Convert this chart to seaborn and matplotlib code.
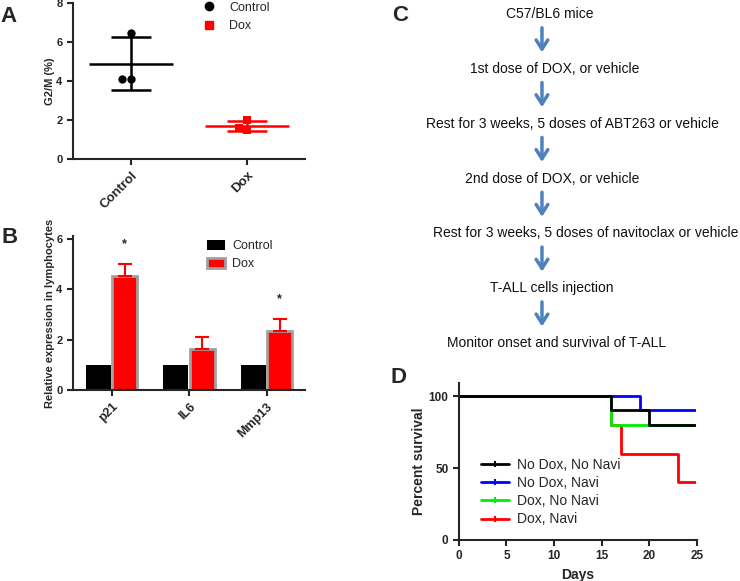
import matplotlib.pyplot as plt
import numpy as np
import pandas as pd
import seaborn as sns
from matplotlib.lines import Line2D
from matplotlib.patches import Patch

# panel A: G2/M fraction per mouse
g2m_groups = ['Control', 'Dox']
g2m_control = [6.45, 4.12, 4.12]
g2m_dox = [1.98, 1.48, 1.58]

# panel B: relative expression (mean, upper error)
genes = ['p21', 'IL6', 'Mmp13']
expr_control = [1.0, 1.0, 1.0]
expr_dox = [4.5, 1.62, 2.35]
expr_dox_err = [0.5, 0.48, 0.45]
expr_signif = ['*', '', '*']

# panel C: experiment flow
steps = ['C57/BL6 mice',
         '1st dose of DOX, or vehicle',
         'Rest for 3 weeks, 5 doses of ABT263 or vehicle',
         '2nd dose of DOX, or vehicle',
         'Rest for 3 weeks, 5 doses of navitoclax or vehicle',
         'T-ALL cells injection',
         'Monitor onset and survival of T-ALL']

# panel D: survival curves
surv_labels = ['No Dox, No Navi', 'No Dox, Navi', 'Dox, No Navi', 'Dox, Navi']
surv_colors = ['black', '#0000ff', '#00ee00', '#ff0000']
surv_days = [[0, 16, 20, 25], [0, 19, 25], [0, 16, 25], [0, 16, 17, 23, 25]]
surv_pct = [[100, 90, 80, 80], [100, 90, 90], [100, 80, 80], [100, 80, 60, 40, 40]]

sns.set_theme(style='ticks')
plt.rcParams['font.family'] = ['Liberation Sans', 'DejaVu Sans']
plt.rcParams['axes.linewidth'] = 1.5
plt.rcParams['xtick.major.width'] = 1.5
plt.rcParams['ytick.major.width'] = 1.5
plt.rcParams['xtick.major.size'] = 4
plt.rcParams['ytick.major.size'] = 4

fig = plt.figure(figsize=(7.4, 5.81), dpi=100)


def style_axis(ax, xsize=8, ysize=8):
    sns.despine(ax=ax)
    for lab in ax.get_xticklabels():
        lab.set_fontweight('bold')
        lab.set_fontsize(xsize)
    for lab in ax.get_yticklabels():
        lab.set_fontweight('bold')
        lab.set_fontsize(ysize)


def rotate_xlabels(ax):
    for lab in ax.get_xticklabels():
        lab.set_rotation(45)
        lab.set_ha('right')
        lab.set_rotation_mode('anchor')


# ---- A ----
ax_a = fig.add_axes([0.0986, 0.7263, 0.314, 0.2685])
sns.swarmplot(x=['Control'] * len(g2m_control), y=g2m_control, order=g2m_groups,
              color='black', marker='o', size=6, ax=ax_a)
sns.swarmplot(x=['Dox'] * len(g2m_dox), y=g2m_dox, order=g2m_groups,
              color='#ff0000', marker='s', size=5.5, ax=ax_a)
for i, (vals, col) in enumerate([(g2m_control, 'black'), (g2m_dox, '#ff0000')]):
    m, sd = np.mean(vals), np.std(vals, ddof=1)
    ax_a.hlines(m, i - 0.36, i + 0.36, color=col, lw=1.8)
    ax_a.hlines([m - sd, m + sd], i - 0.17, i + 0.17, color=col, lw=1.8)
    ax_a.vlines(i, m - sd, m + sd, color=col, lw=1.8)
ax_a.set_xlim(-0.5, 1.5)
ax_a.set_ylim(0, 8)
ax_a.set_yticks([0, 2, 4, 6, 8])
ax_a.set_ylabel('G2/M (%)', fontsize=8, fontweight='bold', labelpad=1)
ax_a.set_xlabel('')
style_axis(ax_a, xsize=9.5)
rotate_xlabels(ax_a)
handles_a = [Line2D([], [], ls='', marker='o', color='black', markersize=6),
             Line2D([], [], ls='', marker='s', color='#ff0000', markersize=5.5)]
ax_a.legend(handles_a, g2m_groups, loc='upper left', bbox_to_anchor=(0.485, 1.08),
            frameon=False, fontsize=9, handletextpad=0.6, labelspacing=0.5)

# ---- B ----
ax_b = fig.add_axes([0.0986, 0.3287, 0.314, 0.265])
df_b = pd.DataFrame({'gene': genes * 2,
                     'group': ['Control'] * len(genes) + ['Dox'] * len(genes),
                     'value': expr_control + expr_dox})
sns.barplot(data=df_b, x='gene', y='value', hue='group', order=genes,
            palette={'Control': 'black', 'Dox': '#ff0000'}, errorbar=None,
            saturation=1, width=0.68, gap=0.05, legend=False, ax=ax_b)
for bar in ax_b.containers[0]:
    bar.set_edgecolor('none')
for bar, val, err, sig in zip(ax_b.containers[1], expr_dox, expr_dox_err, expr_signif):
    bar.set_edgecolor('#a0a0a0')
    bar.set_linewidth(2)
    xc = bar.get_x() + bar.get_width() / 2
    ax_b.errorbar(xc, val, yerr=[[0], [err]], color='#ff0000', capsize=5,
                  capthick=1.5, lw=1.5, zorder=1)
    if sig:
        ax_b.text(xc, val + err + 0.55, sig, ha='center', va='bottom',
                  fontsize=9, fontweight='bold')
ax_b.set_xlim(-0.5, 2.5)
ax_b.set_ylim(0, 6.1)
ax_b.set_yticks([0, 2, 4, 6])
ax_b.set_xlabel('')
ax_b.set_ylabel('Relative expression in lymphocytes', fontsize=8, fontweight='bold', labelpad=1)
style_axis(ax_b, xsize=9)
rotate_xlabels(ax_b)
handles_b = [Patch(facecolor='black', edgecolor='none'),
             Patch(facecolor='#ff0000', edgecolor='#a0a0a0', linewidth=2)]
ax_b.legend(handles_b, ['Control', 'Dox'], loc='upper left', bbox_to_anchor=(0.53, 1.05),
            frameon=False, fontsize=9, handlelength=1.4, handleheight=0.9,
            handletextpad=0.6, labelspacing=0.45)

# ---- C ----
ax_c = fig.add_axes([0.5135, 0.4096, 0.4378, 0.5663])
ax_c.set_xlim(-1, 1)
ax_c.set_ylim(len(steps) - 1, 0)
ax_c.axis('off')
# text lines are not all centred on the arrows in the original
step_shift = [0.05, 0.08, 0.19, 0.06, 0.27, 0.06, 0.09]
for i, txt in enumerate(steps):
    ax_c.text(step_shift[i], i, txt, ha='center', va='center', fontsize=10, color='#111111')
    if i < len(steps) - 1:
        ax_c.annotate('', xy=(0, i + 0.75), xytext=(0, i + 0.2),
                      arrowprops=dict(arrowstyle='->,head_width=0.35,head_length=0.55',
                                      color='#4f81bd', lw=2.5))

# ---- D ----
ax_d = fig.add_axes([0.620, 0.0706, 0.322, 0.270])
for k in [3, 2, 1, 0]:
    sns.lineplot(x=surv_days[k], y=surv_pct[k], drawstyle='steps-post', estimator=None,
                 sort=False, color=surv_colors[k], lw=2, marker='|', markevery=[-1],
                 markersize=5, markeredgewidth=1.5, ax=ax_d)
ax_d.set_xlim(0, 25)
ax_d.set_ylim(0, 109)
ax_d.set_xticks([0, 5, 10, 15, 20, 25])
ax_d.set_yticks([0, 50, 100])
ax_d.set_xlabel('Days', fontsize=10, fontweight='bold')
ax_d.set_ylabel('Percent survival', fontsize=10, fontweight='bold', labelpad=2)
style_axis(ax_d, xsize=8.5, ysize=8.5)
handles_d = [Line2D([], [], color=c, lw=2, marker='|', markersize=5, markeredgewidth=1.5)
             for c in surv_colors]
ax_d.legend(handles_d, surv_labels, loc='center left', bbox_to_anchor=(0.04, 0.305),
            frameon=False, fontsize=10, handlelength=2.0, handletextpad=0.6,
            labelspacing=0.3, numpoints=1)

# panel letters
for letter, x, y in [('A', 0.0, 0.971), ('B', 0.002, 0.592), ('C', 0.530, 0.974), ('D', 0.528, 0.351)]:
    fig.text(x, y, letter, fontsize=16, fontweight='bold', va='center')

fig.savefig('out.png', dpi=100)
